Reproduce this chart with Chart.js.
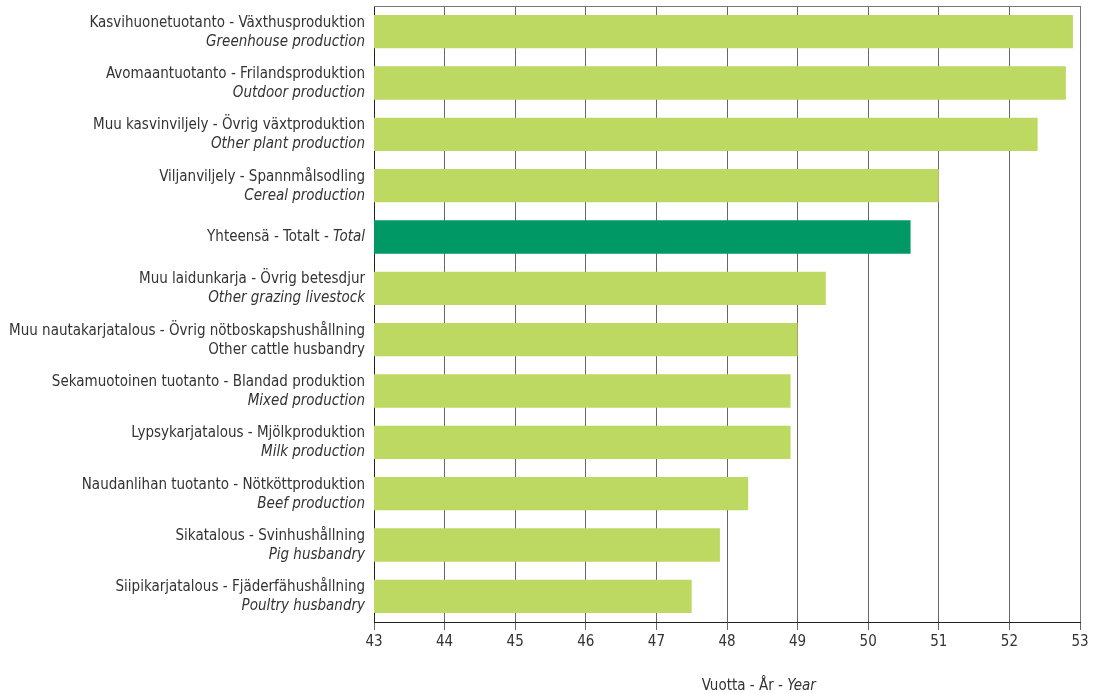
<!DOCTYPE html>
<html>
<head>
<meta charset="utf-8">
<script src="https://cdn.jsdelivr.net/npm/chart.js@4/dist/chart.umd.min.js"></script>
<style>
  html, body { margin: 0; padding: 0; background: #fff; }
  #wrap { width: 1102px; height: 693px; }
</style>
</head>
<body>
<div id="wrap"><canvas id="chart" width="1102" height="693"></canvas></div>
<script>
// first line of each label (Finnish - Swedish), second line (English)
var labelFiSv = [
  'Kasvihuonetuotanto - Växthusproduktion',
  'Avomaantuotanto - Frilandsproduktion',
  'Muu kasvinviljely - Övrig växtproduktion',
  'Viljanviljely - Spannmålsodling',
  'Yhteensä - Totalt - ',
  'Muu laidunkarja - Övrig betesdjur',
  'Muu nautakarjatalous - Övrig nötboskapshushållning',
  'Sekamuotoinen tuotanto - Blandad produktion',
  'Lypsykarjatalous - Mjölkproduktion',
  'Naudanlihan tuotanto - Nötköttproduktion',
  'Sikatalous - Svinhushållning',
  'Siipikarjatalous - Fjäderfähushållning'
];
var labelEn = [
  'Greenhouse production',
  'Outdoor production',
  'Other plant production',
  'Cereal production',
  'Total',
  'Other grazing livestock',
  'Other cattle husbandry',
  'Mixed production',
  'Milk production',
  'Beef production',
  'Pig husbandry',
  'Poultry husbandry'
];
var enItalic = [true, true, true, true, true, true, false, true, true, true, true, true];
var totalIndex = 4;
var avgAge = [52.9, 52.8, 52.4, 51.0, 50.6, 49.4, 49.0, 48.9, 48.9, 48.3, 47.9, 47.5];
var xTicks = [43, 44, 45, 46, 47, 48, 49, 50, 51, 52, 53];

var lightGreen = '#bed962';
var darkGreen = '#009966';
var font = '"Liberation Sans Narrow", "Arial Narrow", "DejaVu Sans Condensed", sans-serif';

var barColors = avgAge.map(function (v, i) { return i === totalIndex ? darkGreen : lightGreen; });

var labelPlugin = {
  id: 'labels',
  afterDraw: function (chart) {
    var c = chart.ctx;
    var ys = chart.scales.y;
    var area = chart.chartArea;
    c.save();
    c.fillStyle = '#333';
    c.textBaseline = 'middle';
    c.textAlign = 'right';
    var xr = area.left - 9;
    for (var i = 0; i < labelFiSv.length; i++) {
      var y = ys.getPixelForValue(i);
      if (i === totalIndex) {
        c.font = 'italic 15px ' + font;
        var w = c.measureText(labelEn[i]).width;
        c.fillText(labelEn[i], xr, y);
        c.font = '15px ' + font;
        c.fillText(labelFiSv[i], xr - w, y);
      } else {
        c.font = '15px ' + font;
        c.fillText(labelFiSv[i], xr, y - 9);
        c.font = (enItalic[i] ? 'italic ' : '') + '15px ' + font;
        c.fillText(labelEn[i], xr, y + 10);
      }
    }
    // top and right frame
    c.strokeStyle = '#777';
    c.lineWidth = 1;
    c.beginPath();
    c.moveTo(area.left, area.top + 0.5);
    c.lineTo(area.right + 0.5, area.top + 0.5);
    c.lineTo(area.right + 0.5, area.bottom);
    c.stroke();
    // axis title
    var xs = chart.scales.x;
    var tx = xs.getPixelForValue(48.45);
    var parts = [['Vuotta - År - ', false], ['Year', true]];
    var total = 0;
    parts.forEach(function (p) {
      c.font = (p[1] ? 'italic ' : '') + '15px ' + font;
      total += c.measureText(p[0]).width;
    });
    var x0 = tx - total / 2;
    c.textAlign = 'left';
    parts.forEach(function (p) {
      c.font = (p[1] ? 'italic ' : '') + '15px ' + font;
      c.fillText(p[0], x0, 686);
      x0 += c.measureText(p[0]).width;
    });
    c.restore();
  }
};

var ctx = document.getElementById('chart').getContext('2d');
var chart = new Chart(ctx, {
  type: 'bar',
  data: {
    labels: labelEn,
    datasets: [{
      data: avgAge,
      backgroundColor: barColors,
      borderWidth: 0,
      categoryPercentage: 1,
      barPercentage: 0.65
    }]
  },
  options: {
    indexAxis: 'y',
    responsive: false,
    animation: false,
    layout: { padding: { top: 6, right: 22, left: 0, bottom: 0 } },
    plugins: { legend: { display: false }, tooltip: { enabled: false } },
    scales: {
      x: {
        min: 43,
        max: 53,
        afterBuildTicks: function (scale) {
          scale.ticks = xTicks.map(function (v) { return { value: v }; });
        },
        afterFit: function (scale) { scale.height = 71; },
        grid: { color: '#666', lineWidth: 1, tickLength: 8, drawOnChartArea: true },
        border: { display: true, color: '#222', width: 1 },
        ticks: { color: '#333', font: { family: font, size: 15 }, padding: 3 }
      },
      y: {
        afterFit: function (scale) { scale.width = 374; },
        grid: { display: false },
        border: { display: true, color: '#222', width: 1 },
        ticks: { display: false }
      }
    }
  },
  plugins: [labelPlugin]
});
</script>
</body>
</html>
